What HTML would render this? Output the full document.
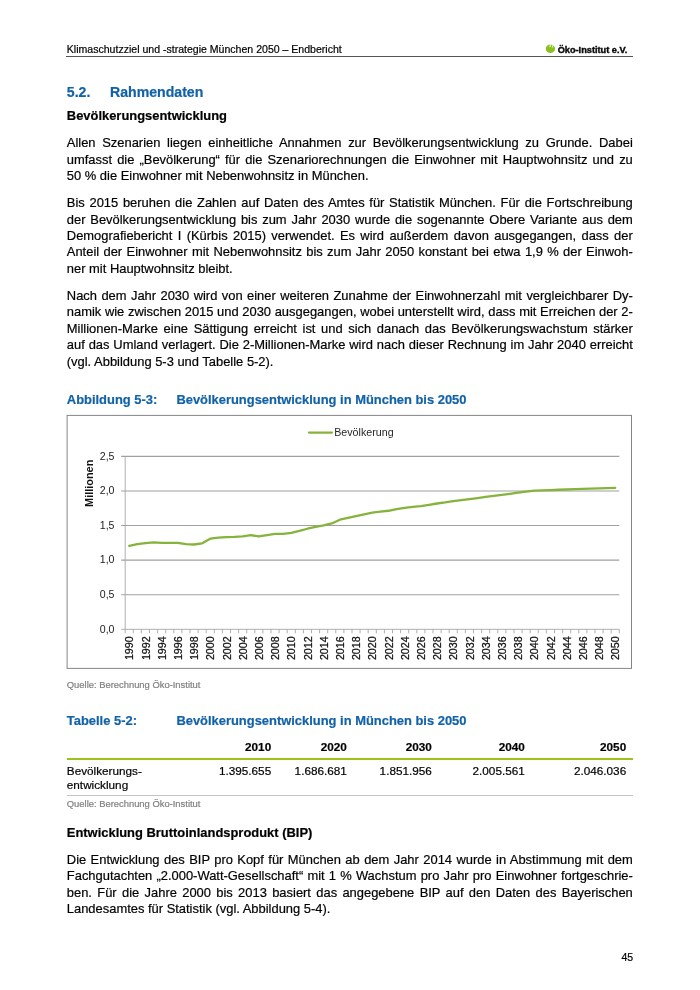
<!DOCTYPE html>
<html lang="de">
<head>
<meta charset="utf-8">
<title>Klimaschutzziel und -strategie München 2050 – Endbericht</title>
<style>
html,body{margin:0;padding:0;background:#fff;}
body{width:700px;height:990px;position:relative;overflow:hidden;font-family:"Liberation Sans",sans-serif;color:#000;-webkit-text-stroke:0.2px currentColor;}
.l{position:absolute;left:66.8px;width:566.0px;white-space:nowrap;font-size:12.935px;line-height:16.463px;height:16.463px;}
.j{text-align:justify;text-align-last:justify;white-space:normal;}
.hdr{font-size:10.558px;}
.h1{font-size:14.111px;font-weight:bold;color:#1262a8;}
.b{font-weight:bold;}
.cap{font-weight:bold;color:#1262a8;}
.src{font-size:9.407px;color:#808080;}
.t{font-size:11.759px;}
.r{text-align:right;}
.rule{position:absolute;}
.nb{white-space:nowrap;}
#pg{position:absolute;left:0;top:0;width:700px;height:990px;will-change:transform;}
</style>
</head>
<body>
<div id="pg">
<div class="l hdr" style="top:42px;line-height:14px;height:14px;">Klimaschutzziel und -strategie München 2050 – Endbericht</div>
<svg style="position:absolute;left:540px;top:38px;" width="100" height="22" viewBox="540 38 100 22" font-family="Liberation Sans, sans-serif">
<ellipse cx="550.4" cy="48.85" rx="4.6" ry="4.25" fill="#8cc01e"/>
<path d="M551.1 43.4L549.75 47.2M553.6 43.8L552.25 47.5" stroke="#fff" stroke-width="0.95" stroke-linecap="butt" fill="none"/>
<text x="557.7" y="53.1" font-size="8.9" font-weight="bold" fill="#0a0a0a" stroke="#0a0a0a" stroke-width="0.4" textLength="69.6" lengthAdjust="spacingAndGlyphs">Öko-Institut e.V.</text>
</svg>

<div class="rule" style="left:65.7px;top:56.05px;width:567.3px;height:0.75px;background:#555;"></div>
<div class="l h1" style="top:83px;line-height:18px;height:18px;">5.2.</div>
<div class="l h1" style="top:83px;line-height:18px;height:18px;left:110.0px;width:300px;">Rahmendaten</div>
<div class="l b" style="top:107px;line-height:17px;height:17px;">Bevölkerungsentwicklung</div>
<div class="l j" style="top:134px;line-height:17px;height:17px;">Allen Szenarien liegen einheitliche Annahmen zur Bevölkerungsentwicklung zu Grunde. Dabei</div>
<div class="l j" style="top:151px;line-height:17px;height:17px;">umfasst die „Bevölkerung“ für die Szenariorechnungen die Einwohner mit Hauptwohnsitz und zu</div>
<div class="l " style="top:167px;line-height:17px;height:17px;">50 % die Einwohner mit Nebenwohnsitz in München.</div>
<div class="l j" style="top:194px;line-height:17px;height:17px;">Bis 2015 beruhen die Zahlen auf Daten des Amtes für Statistik München. Für die Fortschreibung</div>
<div class="l j" style="top:211px;line-height:17px;height:17px;">der Bevölkerungsentwicklung bis zum Jahr 2030 wurde die sogenannte Obere Variante aus dem</div>
<div class="l j" style="top:227px;line-height:17px;height:17px;">Demografiebericht I (Kürbis 2015) verwendet. Es wird außerdem davon ausgegangen, dass der</div>
<div class="l j" style="top:243px;line-height:17px;height:17px;">Anteil der Einwohner mit Nebenwohnsitz bis zum Jahr 2050 konstant bei etwa 1,9 % der <span class=nb>Einwoh-</span></div>
<div class="l " style="top:260px;line-height:17px;height:17px;">ner mit Hauptwohnsitz bleibt.</div>
<div class="l j" style="top:287px;line-height:17px;height:17px;">Nach dem Jahr 2030 wird von einer weiteren Zunahme der Einwohnerzahl mit vergleichbarer <span class=nb>Dy-</span></div>
<div class="l j" style="top:303px;line-height:17px;height:17px;">namik wie zwischen 2015 und 2030 ausgegangen, wobei unterstellt wird, dass mit Erreichen der <span class=nb>2-</span></div>
<div class="l j" style="top:320px;line-height:17px;height:17px;"><span class=nb>Millionen-Marke</span> eine Sättigung erreicht ist und sich danach das Bevölkerungswachstum stärker</div>
<div class="l j" style="top:336px;line-height:17px;height:17px;">auf das Umland verlagert. Die <span class=nb>2-Millionen-Marke</span> wird nach dieser Rechnung im Jahr 2040 erreicht</div>
<div class="l " style="top:353px;line-height:17px;height:17px;">(vgl. Abbildung 5-3 und Tabelle 5-2).</div>
<div class="l cap" style="top:391px;line-height:17px;height:17px;">Abbildung 5-3:</div>
<div class="l cap" style="top:391px;line-height:17px;height:17px;left:176.4px;width:400px;">Bevölkerungsentwicklung in München bis 2050</div>
<svg style="position:absolute;left:0;top:0;" width="700" height="990" viewBox="0 0 700 990" font-family="Liberation Sans, sans-serif">
<rect x="67.1" y="415.4" width="564.4" height="253" fill="#fff" stroke="#858585" stroke-width="1"/>
<line x1="121.20" y1="594.72" x2="619.30" y2="594.72" stroke="#a0a0a0" stroke-width="1.1"/>
<line x1="121.20" y1="560.14" x2="619.30" y2="560.14" stroke="#a0a0a0" stroke-width="1.1"/>
<line x1="121.20" y1="525.56" x2="619.30" y2="525.56" stroke="#a0a0a0" stroke-width="1.1"/>
<line x1="121.20" y1="490.98" x2="619.30" y2="490.98" stroke="#a0a0a0" stroke-width="1.1"/>
<line x1="121.20" y1="456.40" x2="619.30" y2="456.40" stroke="#a0a0a0" stroke-width="1.1"/>
<line x1="121.20" y1="629.30" x2="619.30" y2="629.30" stroke="#a6a6a6" stroke-width="0.9"/>
<line x1="125.20" y1="456.40" x2="125.20" y2="633.30" stroke="#a6a6a6" stroke-width="0.9"/>
<path d="M133.30 629.30v4M141.40 629.30v4M149.50 629.30v4M157.60 629.30v4M165.70 629.30v4M173.80 629.30v4M181.90 629.30v4M190.00 629.30v4M198.10 629.30v4M206.20 629.30v4M214.30 629.30v4M222.40 629.30v4M230.50 629.30v4M238.60 629.30v4M246.70 629.30v4M254.80 629.30v4M262.90 629.30v4M271.00 629.30v4M279.10 629.30v4M287.20 629.30v4M295.30 629.30v4M303.40 629.30v4M311.50 629.30v4M319.60 629.30v4M327.70 629.30v4M335.80 629.30v4M343.90 629.30v4M352.00 629.30v4M360.10 629.30v4M368.20 629.30v4M376.30 629.30v4M384.40 629.30v4M392.50 629.30v4M400.60 629.30v4M408.70 629.30v4M416.80 629.30v4M424.90 629.30v4M433.00 629.30v4M441.10 629.30v4M449.20 629.30v4M457.30 629.30v4M465.40 629.30v4M473.50 629.30v4M481.60 629.30v4M489.70 629.30v4M497.80 629.30v4M505.90 629.30v4M514.00 629.30v4M522.10 629.30v4M530.20 629.30v4M538.30 629.30v4M546.40 629.30v4M554.50 629.30v4M562.60 629.30v4M570.70 629.30v4M578.80 629.30v4M586.90 629.30v4M595.00 629.30v4M603.10 629.30v4M611.20 629.30v4M619.30 629.30v4" stroke="#a6a6a6" stroke-width="0.9" fill="none"/>
<text transform="translate(114.5,632.60) scale(1.05,1)" font-size="10.1" text-anchor="end" fill="#222">0,0</text>
<text transform="translate(114.5,598.02) scale(1.05,1)" font-size="10.1" text-anchor="end" fill="#222">0,5</text>
<text transform="translate(114.5,563.44) scale(1.05,1)" font-size="10.1" text-anchor="end" fill="#222">1,0</text>
<text transform="translate(114.5,528.86) scale(1.05,1)" font-size="10.1" text-anchor="end" fill="#222">1,5</text>
<text transform="translate(114.5,494.28) scale(1.05,1)" font-size="10.1" text-anchor="end" fill="#222">2,0</text>
<text transform="translate(114.5,459.70) scale(1.05,1)" font-size="10.1" text-anchor="end" fill="#222">2,5</text>
<text transform="translate(93.2,483.3) rotate(-90) scale(1.05,1)" font-size="10.4" font-weight="bold" text-anchor="middle" fill="#111">Millionen</text>
<text transform="translate(133.35,636.3) rotate(-90) scale(1.06,1)" font-size="10.1" text-anchor="end" fill="#111" stroke="#111" stroke-width="0.25">1990</text>
<text transform="translate(149.55,636.3) rotate(-90) scale(1.06,1)" font-size="10.1" text-anchor="end" fill="#111" stroke="#111" stroke-width="0.25">1992</text>
<text transform="translate(165.75,636.3) rotate(-90) scale(1.06,1)" font-size="10.1" text-anchor="end" fill="#111" stroke="#111" stroke-width="0.25">1994</text>
<text transform="translate(181.95,636.3) rotate(-90) scale(1.06,1)" font-size="10.1" text-anchor="end" fill="#111" stroke="#111" stroke-width="0.25">1996</text>
<text transform="translate(198.15,636.3) rotate(-90) scale(1.06,1)" font-size="10.1" text-anchor="end" fill="#111" stroke="#111" stroke-width="0.25">1998</text>
<text transform="translate(214.35,636.3) rotate(-90) scale(1.06,1)" font-size="10.1" text-anchor="end" fill="#111" stroke="#111" stroke-width="0.25">2000</text>
<text transform="translate(230.55,636.3) rotate(-90) scale(1.06,1)" font-size="10.1" text-anchor="end" fill="#111" stroke="#111" stroke-width="0.25">2002</text>
<text transform="translate(246.75,636.3) rotate(-90) scale(1.06,1)" font-size="10.1" text-anchor="end" fill="#111" stroke="#111" stroke-width="0.25">2004</text>
<text transform="translate(262.95,636.3) rotate(-90) scale(1.06,1)" font-size="10.1" text-anchor="end" fill="#111" stroke="#111" stroke-width="0.25">2006</text>
<text transform="translate(279.15,636.3) rotate(-90) scale(1.06,1)" font-size="10.1" text-anchor="end" fill="#111" stroke="#111" stroke-width="0.25">2008</text>
<text transform="translate(295.35,636.3) rotate(-90) scale(1.06,1)" font-size="10.1" text-anchor="end" fill="#111" stroke="#111" stroke-width="0.25">2010</text>
<text transform="translate(311.55,636.3) rotate(-90) scale(1.06,1)" font-size="10.1" text-anchor="end" fill="#111" stroke="#111" stroke-width="0.25">2012</text>
<text transform="translate(327.75,636.3) rotate(-90) scale(1.06,1)" font-size="10.1" text-anchor="end" fill="#111" stroke="#111" stroke-width="0.25">2014</text>
<text transform="translate(343.95,636.3) rotate(-90) scale(1.06,1)" font-size="10.1" text-anchor="end" fill="#111" stroke="#111" stroke-width="0.25">2016</text>
<text transform="translate(360.15,636.3) rotate(-90) scale(1.06,1)" font-size="10.1" text-anchor="end" fill="#111" stroke="#111" stroke-width="0.25">2018</text>
<text transform="translate(376.35,636.3) rotate(-90) scale(1.06,1)" font-size="10.1" text-anchor="end" fill="#111" stroke="#111" stroke-width="0.25">2020</text>
<text transform="translate(392.55,636.3) rotate(-90) scale(1.06,1)" font-size="10.1" text-anchor="end" fill="#111" stroke="#111" stroke-width="0.25">2022</text>
<text transform="translate(408.75,636.3) rotate(-90) scale(1.06,1)" font-size="10.1" text-anchor="end" fill="#111" stroke="#111" stroke-width="0.25">2024</text>
<text transform="translate(424.95,636.3) rotate(-90) scale(1.06,1)" font-size="10.1" text-anchor="end" fill="#111" stroke="#111" stroke-width="0.25">2026</text>
<text transform="translate(441.15,636.3) rotate(-90) scale(1.06,1)" font-size="10.1" text-anchor="end" fill="#111" stroke="#111" stroke-width="0.25">2028</text>
<text transform="translate(457.35,636.3) rotate(-90) scale(1.06,1)" font-size="10.1" text-anchor="end" fill="#111" stroke="#111" stroke-width="0.25">2030</text>
<text transform="translate(473.55,636.3) rotate(-90) scale(1.06,1)" font-size="10.1" text-anchor="end" fill="#111" stroke="#111" stroke-width="0.25">2032</text>
<text transform="translate(489.75,636.3) rotate(-90) scale(1.06,1)" font-size="10.1" text-anchor="end" fill="#111" stroke="#111" stroke-width="0.25">2034</text>
<text transform="translate(505.95,636.3) rotate(-90) scale(1.06,1)" font-size="10.1" text-anchor="end" fill="#111" stroke="#111" stroke-width="0.25">2036</text>
<text transform="translate(522.15,636.3) rotate(-90) scale(1.06,1)" font-size="10.1" text-anchor="end" fill="#111" stroke="#111" stroke-width="0.25">2038</text>
<text transform="translate(538.35,636.3) rotate(-90) scale(1.06,1)" font-size="10.1" text-anchor="end" fill="#111" stroke="#111" stroke-width="0.25">2040</text>
<text transform="translate(554.55,636.3) rotate(-90) scale(1.06,1)" font-size="10.1" text-anchor="end" fill="#111" stroke="#111" stroke-width="0.25">2042</text>
<text transform="translate(570.75,636.3) rotate(-90) scale(1.06,1)" font-size="10.1" text-anchor="end" fill="#111" stroke="#111" stroke-width="0.25">2044</text>
<text transform="translate(586.95,636.3) rotate(-90) scale(1.06,1)" font-size="10.1" text-anchor="end" fill="#111" stroke="#111" stroke-width="0.25">2046</text>
<text transform="translate(603.15,636.3) rotate(-90) scale(1.06,1)" font-size="10.1" text-anchor="end" fill="#111" stroke="#111" stroke-width="0.25">2048</text>
<text transform="translate(619.35,636.3) rotate(-90) scale(1.06,1)" font-size="10.1" text-anchor="end" fill="#111" stroke="#111" stroke-width="0.25">2050</text>
<polyline points="129.25,545.82 137.35,544.23 145.45,543.06 153.55,542.44 161.65,542.85 169.75,542.85 177.85,542.92 185.95,544.03 194.05,544.51 202.15,543.33 210.25,538.70 218.35,537.66 226.45,537.18 234.55,536.90 242.65,536.42 250.75,535.17 258.85,536.42 266.95,535.17 275.05,533.93 283.15,533.86 291.25,532.77 299.35,530.95 307.45,528.74 315.55,526.94 323.65,525.49 331.75,523.49 339.85,519.68 347.95,517.88 356.05,516.09 364.15,514.36 372.25,512.65 380.35,511.73 388.45,510.76 396.55,509.03 404.65,507.79 412.75,506.82 420.85,506.06 428.95,504.81 437.05,503.50 445.15,502.46 453.25,501.22 461.35,500.15 469.45,499.09 477.55,498.03 485.65,496.97 493.75,495.90 501.85,494.84 509.95,493.78 518.05,492.72 526.15,491.66 534.25,490.59 542.35,490.31 550.45,490.03 558.55,489.75 566.65,489.48 574.75,489.20 582.85,488.92 590.95,488.64 599.05,488.36 607.15,488.08 615.25,487.80" fill="none" stroke="#86b33b" stroke-width="2.3" stroke-linejoin="round" stroke-linecap="round"/>
<line x1="309" y1="432.6" x2="332" y2="432.6" stroke="#86b33b" stroke-width="2.3" stroke-linecap="round"/>
<text x="334.2" y="436.1" font-size="10.7" fill="#262626">Bevölkerung</text>
</svg>
<div class="l src" style="top:678px;line-height:13px;height:13px;">Quelle: Berechnung Öko-Institut</div>
<div class="l cap" style="top:712px;line-height:17px;height:17px;">Tabelle 5-2:</div>
<div class="l cap" style="top:712px;line-height:17px;height:17px;left:176.4px;width:400px;">Bevölkerungsentwicklung in München bis 2050</div>
<div class="l t b r" style="top:739px;line-height:15px;height:15px;left:181.2px;width:90px;">2010</div>
<div class="l t r" style="top:763px;line-height:15px;height:15px;left:181.2px;width:90px;">1.395.655</div>
<div class="l t b r" style="top:739px;line-height:15px;height:15px;left:256.9px;width:90px;">2020</div>
<div class="l t r" style="top:763px;line-height:15px;height:15px;left:256.9px;width:90px;">1.686.681</div>
<div class="l t b r" style="top:739px;line-height:15px;height:15px;left:341.9px;width:90px;">2030</div>
<div class="l t r" style="top:763px;line-height:15px;height:15px;left:341.9px;width:90px;">1.851.956</div>
<div class="l t b r" style="top:739px;line-height:15px;height:15px;left:434.8px;width:90px;">2040</div>
<div class="l t r" style="top:763px;line-height:15px;height:15px;left:434.8px;width:90px;">2.005.561</div>
<div class="l t b r" style="top:739px;line-height:15px;height:15px;left:536.2px;width:90px;">2050</div>
<div class="l t r" style="top:763px;line-height:15px;height:15px;left:536.2px;width:90px;">2.046.036</div>
<div class="rule" style="left:66.6px;top:758.2px;width:566.4px;height:1.6px;background:#9bc31c;"></div>
<div class="l t" style="top:763px;line-height:15px;height:15px;">Bevölkerungs-</div>
<div class="l t" style="top:777px;line-height:15px;height:15px;">entwicklung</div>
<div class="rule" style="left:66.6px;top:795.1px;width:566.4px;height:1px;background:#c4c4c4;"></div>
<div class="l src" style="top:797px;line-height:13px;height:13px;">Quelle: Berechnung Öko-Institut</div>
<div class="l b" style="top:824px;line-height:17px;height:17px;">Entwicklung Bruttoinlandsprodukt (BIP)</div>
<div class="l j" style="top:851px;line-height:17px;height:17px;">Die Entwicklung des BIP pro Kopf für München ab dem Jahr 2014 wurde in Abstimmung mit dem</div>
<div class="l j" style="top:867px;line-height:17px;height:17px;">Fachgutachten <span class=nb>„2.000-Watt-Gesellschaft“</span> mit 1 % Wachstum pro Jahr pro Einwohner <span class=nb>fortgeschrie-</span></div>
<div class="l j" style="top:884px;line-height:17px;height:17px;">ben. Für die Jahre 2000 bis 2013 basiert das angegebene BIP auf den Daten des Bayerischen</div>
<div class="l " style="top:900px;line-height:17px;height:17px;">Landesamtes für Statistik (vgl. Abbildung 5-4).</div>
<div class="l hdr r" style="top:950px;line-height:14px;height:14px;left:533.2px;width:100px;">45</div>
</div>
</body>
</html>
